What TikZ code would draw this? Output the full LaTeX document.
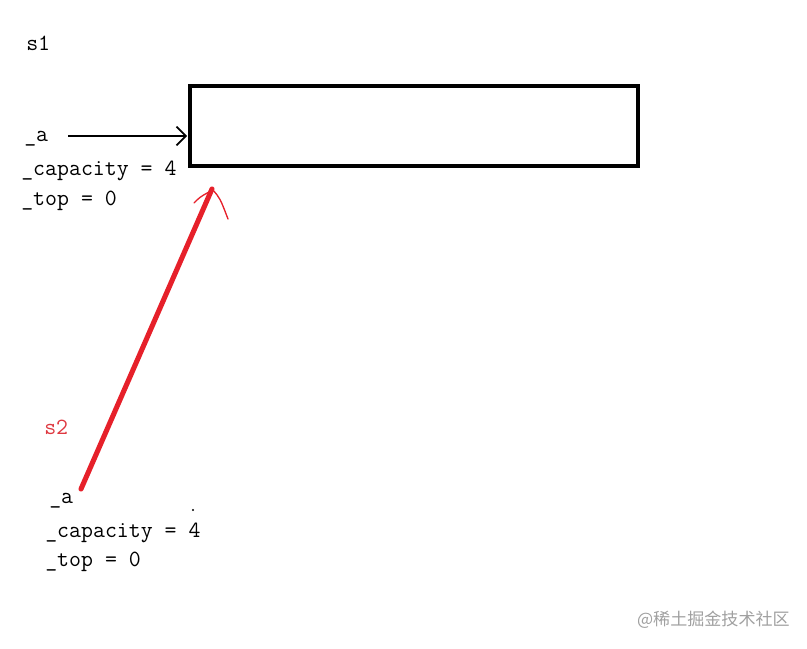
\documentclass[tikz,border=0pt]{standalone}
\usepackage{fontspec}
\newfontfamily\cjk{Noto Sans CJK SC}
\usetikzlibrary{arrows.meta}
\definecolor{penred}{RGB}{230,32,42}
\definecolor{labred}{RGB}{222,56,64}
\definecolor{wmgray}{RGB}{160,160,160}
\tikzset{
  code/.style={anchor=base west,inner sep=0pt,font=\ttfamily\fontsize{17.4}{18}\selectfont},
}
\begin{document}
\begin{tikzpicture}[x=0.75pt,y=-0.75pt]
\useasboundingbox (0,0) rectangle (807,649);
% s1
\node[code] (s1) at (26,51) {s1};
\node[code] (a1) at (24,142) {\_a};
\node[code] (c1) at (21,176) {\_capacity = 4};
\node[code] (t1) at (21,205) {\_top = 0};
% array block
\node[draw,line width=3pt,minimum width=336pt,minimum height=60pt,inner sep=0pt] (arr) at (414,126) {};
% black arrow
\coordinate (bstart) at (68,136);
\coordinate (btip) at (187,136);
\draw[line width=1.3pt,-{Straight Barb[length=7pt,width=14pt]}] (bstart) -- (btip);
% s2
\node[code,text=labred] (s2) at (44,434) {s2};
\node[code] (a2) at (49,503) {\_a};
\node[code] (c2) at (45,537) {\_capacity = 4};
\node[code] (t2) at (45,566) {\_top = 0};
% red pointer
\coordinate (rstart) at (81,489);
\coordinate (rtip) at (212,189);
\coordinate (rbarbL) at (194,203);
\coordinate (rbarbR) at (228,219);
\draw[penred,line width=3.8pt,line cap=round] (rstart) -- (rtip);
\draw[penred,line width=1pt,line cap=round] (rbarbL) .. controls (200,197) .. (209,192) (rtip) .. controls (220,198) .. (228,219);
% small dot
\fill (193,510) circle (0.8pt);
% watermark
\node[anchor=east,inner sep=0pt,text=wmgray,font=\cjk\fontsize{12.8}{14}\selectfont] (wm) at (790,620) {@稀土掘金技术社区};
\end{tikzpicture}
\end{document}
